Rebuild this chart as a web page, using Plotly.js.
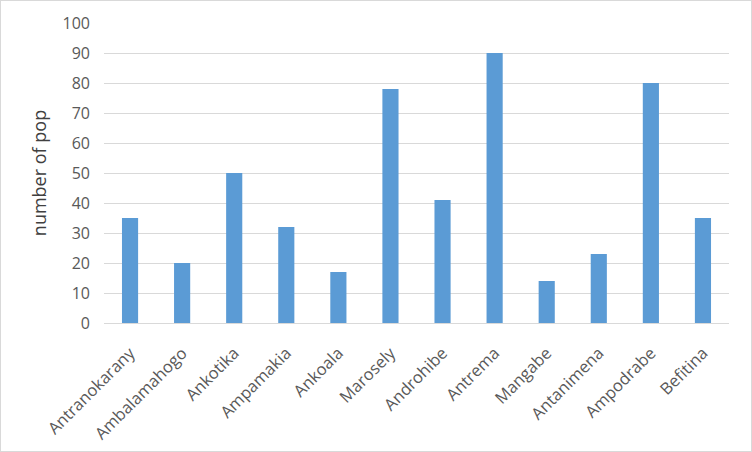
<!DOCTYPE html>
<html>
<head>
<meta charset="utf-8">
<script src="https://cdn.plot.ly/plotly-3.0.1.min.js"></script>
<style>
html,body{margin:0;padding:0;background:#fff;}
#wrap{width:750px;height:450px;border:1px solid #d9d9d9;}
#chart{width:750px;height:450px;}
</style>
</head>
<body>
<div id="wrap"><div id="chart"></div></div>
<script>
const categories = ["Antranokarany","Ambalamahogo","Ankotika","Ampamakia","Ankoala","Marosely","Androhibe","Antrema","Mangabe","Antanimena","Ampodrabe","Befitina"];
const population = [35, 20, 50, 32, 17, 78, 41, 90, 14, 23, 80, 35];
const yTicks = [0,10,20,30,40,50,60,70,80,90,100];

const trace = {
  type: "bar",
  x: categories,
  y: population,
  marker: {color: "#5b9bd5"},
  hoverinfo: "x+y"
};

const layout = {
  width: 750,
  height: 450,
  margin: {l: 103, r: 22, t: 22, b: 128},
  paper_bgcolor: "#ffffff",
  plot_bgcolor: "#ffffff",
  bargap: 0.69,
  showlegend: false,
  font: {family: "Open Sans, Liberation Sans, sans-serif", color: "#595959"},
  xaxis: {
    tickangle: -45,
    tickfont: {size: 16.5, color: "#595959"},
    showgrid: false,
    showline: true,
    linecolor: "#d9d9d9",
    linewidth: 1,
    ticks: "",
    ticklabelstandoff: 13,
    automargin: false
  },
  yaxis: {
    range: [0, 100],
    tickvals: yTicks,
    tickfont: {size: 16, color: "#595959"},
    showgrid: true,
    gridcolor: "#d9d9d9",
    gridwidth: 1,
    zeroline: false,
    showline: false,
    ticks: "",
    ticklabelstandoff: 13,
    title: {text: "number of pop", font: {size: 18, color: "#404040"}, standoff: 11},
    automargin: false
  }
};

Plotly.newPlot("chart", [trace], layout, {displayModeBar: false, staticPlot: true});
</script>
</body>
</html>
